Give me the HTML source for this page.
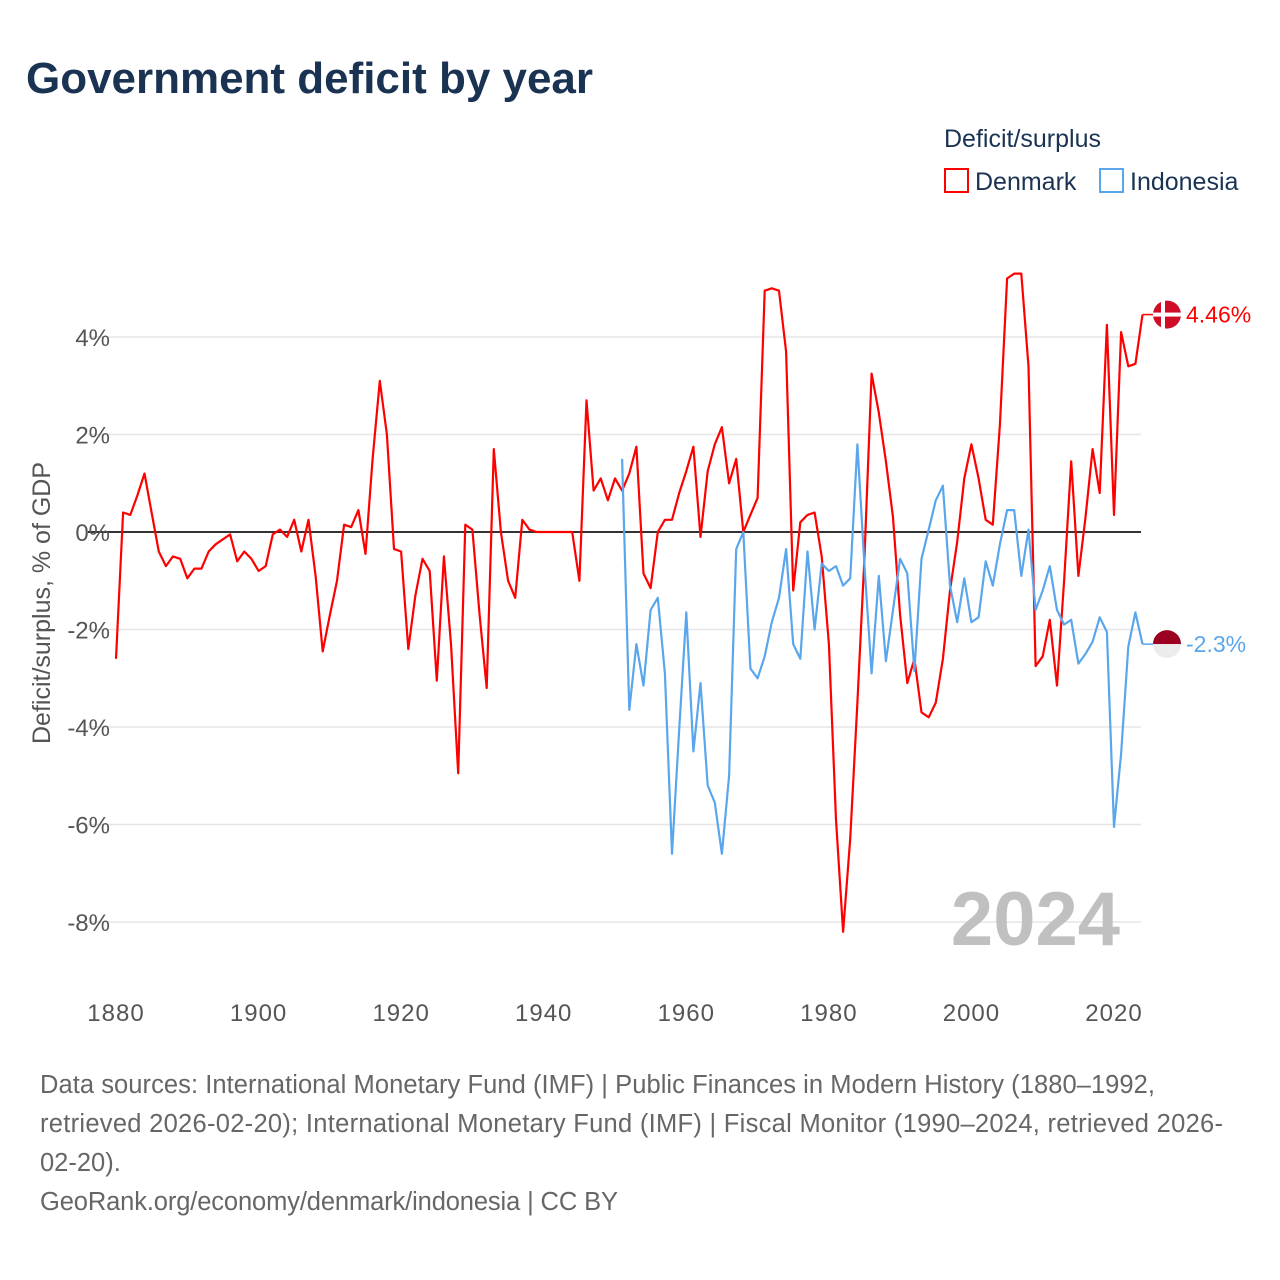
<!DOCTYPE html>
<html><head><meta charset="utf-8"><style>
body{margin:0;background:#fff;font-family:"Liberation Sans","DejaVu Sans",sans-serif;}
#wrap{position:relative;width:1280px;height:1280px;overflow:hidden;}
</style></head><body>
<div id="wrap">
<svg id="chart" width="1280" height="1280" xmlns="http://www.w3.org/2000/svg">
<text x="26" y="93" font-size="44" font-weight="bold" fill="#1a3352" textLength="567">Government deficit by year</text>
<g>
<text x="944" y="147" font-size="25" fill="#1a3352">Deficit/surplus</text>
<g><rect x="945" y="169" width="23" height="23" fill="none" stroke="#ff0000" stroke-width="2"/><text x="975" y="190" font-size="25" fill="#1a3352">Denmark</text></g>
<g><rect x="1100" y="169" width="23" height="23" fill="none" stroke="#5aa6ec" stroke-width="2"/><text x="1130" y="190" font-size="25" fill="#1a3352">Indonesia</text></g>
</g>
<g id="grid"></g>
<g id="yticks"></g>
<g id="xticks"></g>
<text transform="translate(50,603) rotate(-90)" text-anchor="middle" font-size="25" fill="#555">Deficit/surplus, % of GDP</text>
<text x="1120" y="945" text-anchor="end" font-size="76" font-weight="bold" fill="#c0c0c0">2024</text>
<g id="series"></g>
<g id="ends"></g>
<g font-size="25.5" fill="#666">
<text x="40" y="1093" textLength="1115">Data sources: International Monetary Fund (IMF) | Public Finances in Modern History (1880–1992,</text>
<text x="40" y="1132" textLength="1183">retrieved 2026-02-20); International Monetary Fund (IMF) | Fiscal Monitor (1990–2024, retrieved 2026-</text>
<text x="40" y="1171">02-20).</text>
<text x="40" y="1210" textLength="578">GeoRank.org/economy/denmark/indonesia | CC BY</text>
</g>
</svg>
</div>
<script>
const yTicks=[4,2,0,-2,-4,-6,-8];
const xTicks=[1880,1900,1920,1940,1960,1980,2000,2020];
const denmarkStart=1880;
const denmark=[-2.6,0.4,0.35,0.75,1.2,0.4,-0.4,-0.7,-0.5,-0.55,-0.95,-0.75,-0.75,-0.4,-0.25,-0.15,-0.05,-0.6,-0.4,-0.55,
-0.8,-0.7,-0.05,0.05,-0.1,0.25,-0.4,0.25,-0.9,-2.45,-1.7,-1.0,0.15,0.1,0.45,-0.45,1.5,3.1,2.0,-0.35,
-0.4,-2.4,-1.3,-0.55,-0.8,-3.05,-0.5,-2.3,-4.95,0.15,0.05,-1.7,-3.2,1.7,0.0,-1.0,-1.35,0.25,0.05,0.0,
0,0,0,0,0,-1.0,2.7,0.85,1.1,0.65,1.1,0.85,1.2,1.75,-0.85,-1.15,0.0,0.25,0.25,0.8,
1.25,1.75,-0.1,1.25,1.8,2.15,1.0,1.5,0.0,0.35,0.7,4.95,5.0,4.95,3.7,-1.2,0.2,0.35,0.4,-0.5,
-2.3,-5.9,-8.2,-6.3,-3.5,-0.5,3.25,2.45,1.45,0.3,-1.7,-3.1,-2.6,-3.7,-3.8,-3.5,-2.6,-1.2,-0.2,1.1,
1.8,1.1,0.25,0.15,2.2,5.2,5.3,5.3,3.4,-2.75,-2.55,-1.8,-3.15,-1.0,1.45,-0.9,0.3,1.7,0.8,4.25,
0.35,4.1,3.4,3.45,4.46];
const indonesiaStart=1951;
const indonesia=[1.5,-3.65,-2.3,-3.15,-1.6,-1.35,-2.9,-6.6,-4.05,
-1.65,-4.5,-3.1,-5.2,-5.55,-6.6,-5.0,-0.35,0.0,-2.8,-3.0,-2.55,-1.85,-1.35,-0.35,-2.3,-2.6,-0.4,-2.0,-0.65,
-0.8,-0.7,-1.1,-0.95,1.8,-0.7,-2.9,-0.9,-2.65,-1.6,-0.55,-0.85,-2.85,-0.55,0.05,0.65,0.95,-1.1,-1.85,-0.95,
-1.85,-1.75,-0.6,-1.1,-0.25,0.45,0.45,-0.9,0.05,-1.6,-1.2,-0.7,-1.6,-1.9,-1.8,-2.7,-2.5,-2.25,-1.75,-2.05,
-6.05,-4.55,-2.35,-1.65,-2.3];
const NS='http://www.w3.org/2000/svg';
const X=yr=>116+(yr-1880)*(998/140);
const Y=v=>532-v*48.75;
function mk(tag,attrs,parent){const e=document.createElementNS(NS,tag);for(const k in attrs)e.setAttribute(k,attrs[k]);parent.appendChild(e);return e;}
const grid=document.getElementById('grid'),yt=document.getElementById('yticks'),xt=document.getElementById('xticks');
yTicks.forEach(t=>{
  const l=mk('line',{x1:88,x2:1141,y1:Y(t),y2:Y(t),stroke:'#e6e6e6','stroke-width':1.5},grid);
  
  
  const tx=mk('text',{x:110,y:Y(t)+9,'text-anchor':'end','font-size':24,fill:'#555'},yt);
  tx.textContent=t+'%';
  
  
});
const zl=mk('line',{x1:88,x2:1141,y1:Y(0),y2:Y(0),stroke:'#333','stroke-width':2},grid);


xTicks.forEach(t=>{
  const tx=mk('text',{x:X(t),y:1021,'text-anchor':'middle','font-size':24,fill:'#555','letter-spacing':1},xt);
  tx.textContent=t;
  
  
});
const ser=document.getElementById('series');
function line(arr,start,color,name){
  const d=arr.map((v,i)=>(i?'L':'M')+X(start+i).toFixed(1)+','+Y(v).toFixed(1)).join('');
  const p=mk('path',{d:d,fill:'none',stroke:color,'stroke-width':2.2,'stroke-linejoin':'round'},ser);
  
  
}
line(denmark,denmarkStart,'#ff0000','denmark-line');
line(indonesia,indonesiaStart,'#5aa6ec','indonesia-line');
const ends=document.getElementById('ends');
function endLabel(v,color,name,flag){
  const y=Y(v),x0=X(2024),cx=1167;
  mk('line',{x1:x0,x2:cx-14,y1:y,y2:y,stroke:color,'stroke-width':1.5},ends);
  const g=mk('g',{},ends);
  
  
  if(flag==='dk'){
    mk('circle',{cx:cx,cy:y,r:14,fill:'#d00c27'},g);
    mk('rect',{x:cx-14,y:y-2,width:28,height:4,fill:'#fff'},g);
    mk('rect',{x:cx-6,y:y-14,width:4,height:28,fill:'#fff'},g);
  }else{
    mk('path',{d:`M${cx-14},${y} A14,14 0 0 1 ${cx+14},${y} Z`,fill:'#9b0020'},g);
    mk('path',{d:`M${cx-14},${y} A14,14 0 0 0 ${cx+14},${y} Z`,fill:'#ececec'},g);
  }
  const t=mk('text',{x:cx+19,y:y+8,'font-size':23,fill:color},ends);
  t.textContent=v+'%';
  
  
}
endLabel(denmark[denmark.length-1],'#ff0000','denmark','dk');
endLabel(indonesia[indonesia.length-1],'#5aa6ec','indonesia','id');
</script>
</body></html>
